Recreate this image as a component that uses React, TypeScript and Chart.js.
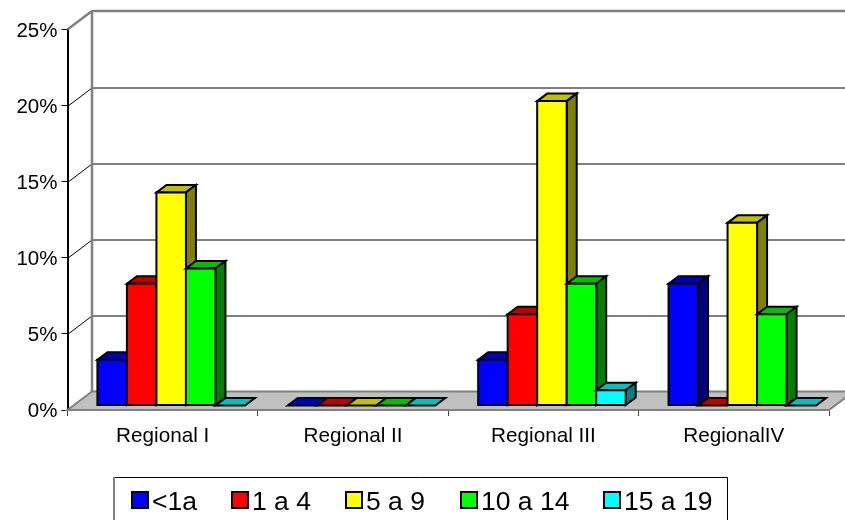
import React, { useEffect, useRef } from "react";
import { Chart, registerables } from "chart.js";

Chart.register(...registerables);

const categories = ["Regional I", "Regional II", "Regional III", "RegionalIV"];
const ageGroups = ["<1a", "1 a 4", "5 a 9", "10 a 14", "15 a 19"];
const under1 = [3, 0, 3, 8];
const from1to4 = [8, 0, 6, 0];
const from5to9 = [14, 0, 20, 12];
const from10to14 = [9, 0, 8, 6];
const from15to19 = [0, 0, 1, 0];
const seriesValues = [under1, from1to4, from5to9, from10to14, from15to19];
const yTicks = [0, 5, 10, 15, 20, 25];

const frontColors = ["#0000ff", "#ff0000", "#ffff00", "#00ff00", "#00ffff"];
const topColors = ["#0000c0", "#c00000", "#c0c000", "#00c000", "#00c0c0"];
const sideColors = ["#000080", "#800000", "#808000", "#008000", "#008080"];

const FONT = '"Liberation Sans", Arial, sans-serif';
const WALL_DX = 24.5;
const WALL_DY = 18.5;
const BAR_SHIFT_X = 8.5;
const BAR_SHIFT_Y = 4.5;
const BAR_DX = 10;
const BAR_DY = 7.5;

function poly(ctx: CanvasRenderingContext2D, pts: number[][], fill: string | null, stroke: string, lw: number) {
  ctx.beginPath();
  pts.forEach((p, i) => (i ? ctx.lineTo(p[0], p[1]) : ctx.moveTo(p[0], p[1])));
  ctx.closePath();
  if (fill) {
    ctx.fillStyle = fill;
    ctx.fill();
  }
  ctx.strokeStyle = stroke;
  ctx.lineWidth = lw;
  ctx.lineJoin = "miter";
  ctx.stroke();
}

// Nudges axis text down so digits sit centred on their tick marks.
function nudgeLabels(scale: any, dy: number) {
  const compute = scale._computeLabelItems;
  if (scale.__nudged) return;
  scale.__nudged = true;
  scale._computeLabelItems = function (area: any) {
    return compute.call(this, area).map((item: any) => ({ ...item, textOffset: item.textOffset + dy }));
  };
}

function drawWalls(chart: any) {
  const { ctx, chartArea: a, scales } = chart;
  const y = scales.y;
  const left = a.left;
  const bottom = y.getPixelForValue(0);
  const top = y.getPixelForValue(25);
  const backL = left + WALL_DX;
  ctx.save();

  // floor
  poly(
    ctx,
    [
      [left, bottom],
      [a.right, bottom],
      [a.right + WALL_DX, bottom - WALL_DY],
      [backL, bottom - WALL_DY],
    ],
    "#c0c0c0",
    "#808080",
    2
  );

  // gridlines on the side wall and back wall
  ctx.strokeStyle = "#000000";
  ctx.lineWidth = 1;
  yTicks.slice(1, -1).forEach((t) => {
    const py = Math.round(y.getPixelForValue(t)) + 0.5;
    ctx.beginPath();
    ctx.moveTo(left, py);
    ctx.lineTo(backL, py - WALL_DY);
    ctx.lineTo(a.right + WALL_DX, py - WALL_DY);
    ctx.stroke();
  });

  // wall outline
  ctx.strokeStyle = "#808080";
  ctx.lineWidth = 2.5;
  ctx.beginPath();
  ctx.moveTo(left, top);
  ctx.lineTo(backL, top - WALL_DY);
  ctx.lineTo(a.right + WALL_DX, top - WALL_DY);
  ctx.moveTo(backL, top - WALL_DY);
  ctx.lineTo(backL, bottom - WALL_DY);
  ctx.stroke();
  ctx.restore();
}

// Extruded columns: each bar gets a top and a side face, then its front face.
function drawBars(chart: any) {
  const { ctx } = chart;
  ctx.save();
  chart.data.datasets.forEach((_: any, i: number) => {
    chart.getDatasetMeta(i).data.forEach((el: any) => {
      const p = el.getProps(["x", "y", "base", "width"], true);
      const l = p.x - p.width / 2 + BAR_SHIFT_X;
      const r = l + p.width;
      const t = p.y - BAR_SHIFT_Y;
      const b = p.base - BAR_SHIFT_Y;
      poly(ctx, [[l, t], [r, t], [r + BAR_DX, t - BAR_DY], [l + BAR_DX, t - BAR_DY]], topColors[i], "#000000", 2);
      if (b - t > 0.5) {
        poly(ctx, [[r, t], [r + BAR_DX, t - BAR_DY], [r + BAR_DX, b - BAR_DY], [r, b]], sideColors[i], "#000000", 2);
        poly(ctx, [[l, t], [r, t], [r, b], [l, b]], frontColors[i], "#000000", 2);
      }
    });
  });
  ctx.restore();
}

const scenePlugin = {
  id: "scene3d",
  beforeDatasetsDraw(chart: any) {
    drawWalls(chart);
    drawBars(chart);
    return false;
  },
};

// Framed legend row underneath the plot; the frame runs off the bottom edge.
const legendPlugin = {
  id: "legendRow",
  afterDraw(chart: any) {
    const { ctx } = chart;
    const swatchX = [132, 232, 346, 461, 604];
    ctx.save();
    ctx.lineWidth = 1;
    ctx.strokeStyle = "#000000";
    ctx.beginPath();
    ctx.moveTo(114, 477.5);
    ctx.lineTo(727.5, 477.5);
    ctx.lineTo(727.5, 520);
    ctx.stroke();
    ctx.strokeStyle = "#808080";
    ctx.lineWidth = 2;
    ctx.beginPath();
    ctx.moveTo(114, 477);
    ctx.lineTo(114, 520);
    ctx.stroke();
    ctx.font = `26.5px ${FONT}`;
    ctx.textBaseline = "alphabetic";
    ctx.textAlign = "left";
    ageGroups.forEach((label, i) => {
      ctx.fillStyle = frontColors[i];
      ctx.strokeStyle = "#000000";
      ctx.lineWidth = 2;
      ctx.fillRect(swatchX[i], 492, 16, 16);
      ctx.strokeRect(swatchX[i], 492, 16, 16);
      ctx.fillStyle = "#000000";
      ctx.fillText(label, swatchX[i] + 20, 510);
    });
    ctx.restore();
  },
};

export default function App() {
  const ref = useRef<HTMLCanvasElement>(null);

  useEffect(() => {
    const chart = new Chart(ref.current!, {
      type: "bar",
      data: {
        labels: categories,
        datasets: ageGroups.map((label, i) => ({
          label,
          data: seriesValues[i],
          backgroundColor: frontColors[i],
        })),
      },
      options: {
        responsive: false,
        animation: false,
        layout: { padding: { top: 29.5, right: 16, bottom: 0, left: 0 } },
        plugins: { legend: { display: false }, title: { display: false }, tooltip: { enabled: false } },
        datasets: { bar: { categoryPercentage: 0.775, barPercentage: 1, grouped: true } },
        scales: {
          x: {
            offset: true,
            afterFit: (s: any) => {
              s.height = 110;
              s.paddingLeft = 0;
              s.paddingRight = 0;
            },
            grid: { offset: true, drawOnChartArea: false, drawTicks: true, tickLength: 6, color: "#404040" },
            border: { display: true, color: "#808080", width: 2 },
            ticks: { padding: 8, font: { family: FONT, size: 20.7 }, color: "#000000", maxRotation: 0 },
          },
          y: {
            min: 0,
            max: 25,
            afterUpdate: (s: any) => nudgeLabels(s, 1.5),
            afterFit: (s: any) => {
              s.width = 67.5;
              s.paddingTop = 0;
              s.paddingBottom = 0;
            },
            grid: { drawOnChartArea: false, drawTicks: true, tickLength: 6, color: "#000000" },
            border: { display: true, color: "#000000", width: 2 },
            ticks: {
              stepSize: 5,
              padding: 4,
              font: { family: FONT, size: 20.5 },
              color: "#000000",
              callback: (v: any) => `${v}%`,
            },
          },
        },
      } as any,
      plugins: [scenePlugin, legendPlugin],
    });
    return () => chart.destroy();
  }, []);

  return (
    <div style={{ position: "absolute", left: 0, top: 0, width: 845, height: 520, background: "#ffffff" }}>
      <canvas ref={ref} width={845} height={520} style={{ display: "block" }} />
    </div>
  );
}
